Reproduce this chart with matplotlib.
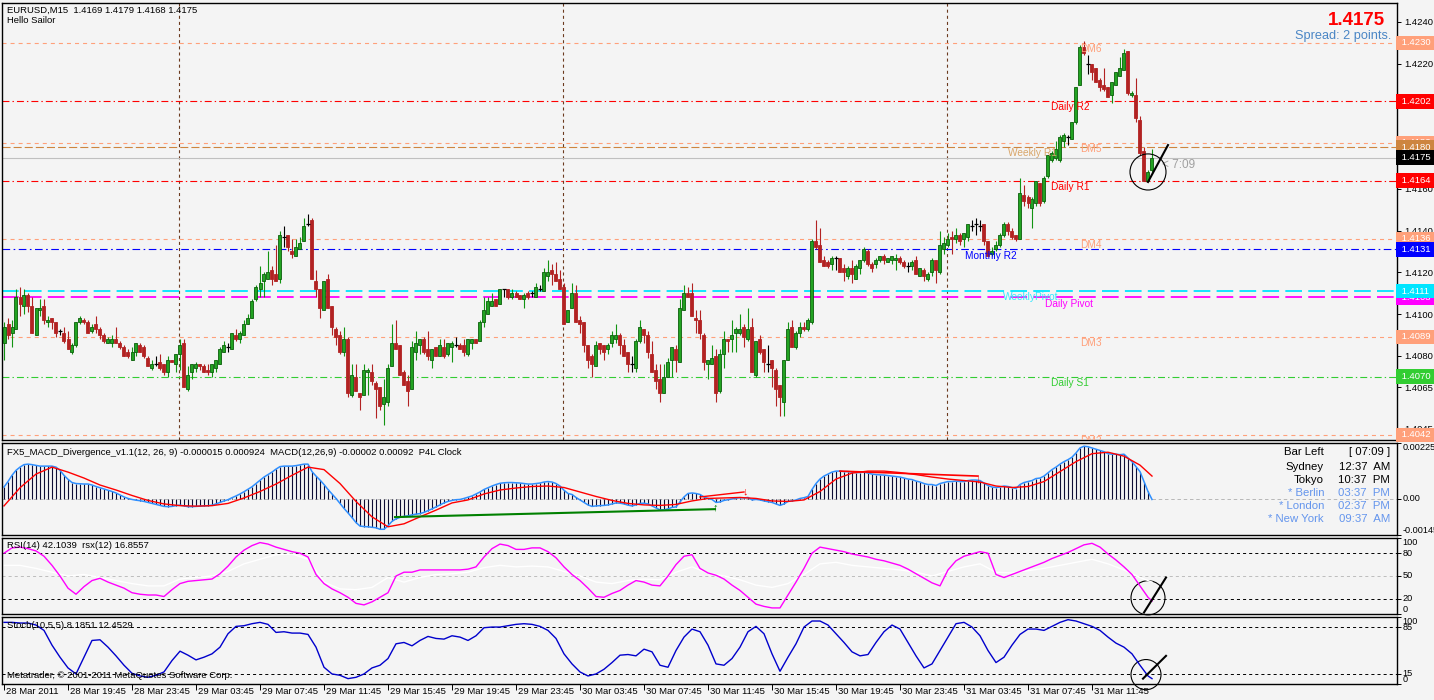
import numpy as np
import matplotlib.pyplot as plt
from matplotlib.patches import Ellipse
from matplotlib.transforms import blended_transform_factory as blend

plt.rcParams['font.family'] = ['Liberation Sans', 'DejaVu Sans']
plt.rcParams['lines.scale_dashes'] = False

W, H = 1434, 700
BG = '#f4f4f4'

# EURUSD M15 candles, pips above 1.4000, first bar 28 Mar 15:45
opens = [86,95,91,93,108,104,109,104,90,102, 104,96,98,96,92,91,88,82,85,96,
         97,96,92,95,93,90,86,86,88,86, 84,82,78,82,85,84,79,74,76,77,
         76,72,78,76,81,86,64,72,74,76, 75,73,72,74,76,82,84,83,90,88,
         90,95,98,107,112,116,117,121,119,117, 137,138,130,128,131,135,143,145,116,112,
         102,117,104,93,90,82,88,61,70,62, 61,72,72,67,65,57,58,75,86,85,
         72,68,64,82,85,88,83,78,84,80, 84,81,84,85,85,85,81,86,88,87,
         96,100,104,107,105,112,112,108,110,109, 107,110,110,108,112,111,118,121,119,117,
         113,96,103,110,97,96,85,80,75,86, 85,83,86,88,90,85,82,76,74,87,
         93,90,81,73,69,62,70,78,83,77, 102,110,110,98,97,90,76,76,80,63,
         81,88,88,91,91,94,88,94,71,88, 83,76,78,73,66,58,78,94,84,91,
         94,93,96,135,133,126,125,124,127,127, 122,118,122,117,122,126,130,124,124,126,
         128,125,126,126,127,125,123,123,126,118, 121,117,120,126,120,131,133,137,136,138,
         136,137,142,143,142,143,135,129,131,133, 138,143,140,138,136,157,156,151,153,163,
         154,166,174,175,174,183,185,184,192,210, 228,220,220,218,212,210,209,205,210,214,
         217,226,205,205,193,178,164,169]
highs = [96,98,97,112,113,112,110,108,103,107, 107,99,98,96,93,94,92,86,96,99,
         98,97,95,99,94,91,89,90,94,87, 85,83,84,86,86,85,80,78,80,81,
         76,80,78,81,88,88,75,76,77,76, 76,76,76,78,84,87,86,91,93,92,
         97,100,107,114,123,120,130,123,133,140, 142,138,136,136,137,146,148,146,121,112,
         116,119,104,94,92,94,89,76,76,62, 76,74,76,68,65,69,76,95,97,85,
         73,71,87,92,88,89,92,83,84,88, 88,86,87,89,86,88,88,88,88,97,
         108,108,110,107,112,112,112,112,111,109, 110,111,111,115,114,122,126,124,125,121,
         115,102,115,114,99,96,85,81,87,86, 85,86,92,95,91,88,82,80,88,97,
         93,92,87,76,76,76,79,84,85,107, 114,113,115,102,102,91,78,85,83,83,
         92,88,97,94,100,95,103,98,87,90, 83,85,78,74,66,78,96,97,92,96,
         96,98,136,145,141,128,126,128,128,127, 124,123,126,124,126,132,131,125,127,128,
         129,127,128,129,128,126,125,126,128,122, 122,120,127,126,140,137,139,140,141,139,
         139,143,145,146,145,143,135,132,135,139, 144,144,141,138,165,162,157,156,164,163,
         166,176,178,183,186,187,186,192,209,229, 231,224,220,218,213,218,209,211,216,223,
         227,226,207,213,195,180,169,179]
lows = [78,88,84,93,99,100,101,91,90,99, 95,94,93,89,90,86,83,81,84,95,
        95,91,91,91,88,86,86,84,86,83, 80,79,78,80,82,79,75,73,75,73,
        71,70,77,72,73,65,63,69,72,73, 72,71,70,72,76,82,82,83,87,86,
        90,95,98,106,108,108,117,114,116,115, 132,130,127,128,131,135,142,117,108,98,
        102,103,90,85,81,80,60,60,63,54, 61,61,66,50,54,47,56,75,83,71,
        66,56,64,78,81,81,78,74,80,80, 79,80,77,84,83,80,80,83,86,87,
        94,100,104,104,105,108,107,107,108,107, 103,107,108,108,111,111,116,114,116,112,
        95,96,103,96,91,82,74,70,75,81, 78,81,84,86,81,80,72,72,72,86,
        86,79,72,64,58,62,70,70,72,77, 102,108,99,91,88,73,69,76,58,62,
        74,82,82,82,90,84,87,72,70,81, 72,72,65,56,51,51,78,84,83,89,
        92,92,95,131,125,123,122,121,121,120, 116,117,115,117,119,125,123,120,122,125,
        124,125,124,121,124,122,120,121,119,118, 116,116,118,115,119,129,132,129,134,133,
        132,135,140,138,140,133,128,128,130,132, 137,138,136,135,136,152,151,141,152,152,
        153,165,173,174,173,180,181,184,191,210, 224,215,212,211,207,207,204,201,210,214,
        217,205,204,192,176,164,164,168]
closes = [94,90,94,108,105,109,104,91,103,103, 97,97,96,91,92,87,83,85,96,98,
          96,91,94,93,90,87,88,88,86,84, 80,80,82,86,82,80,75,76,76,74,
          72,78,77,81,85,65,71,76,76,75, 72,72,76,78,83,85,84,91,88,91,
          95,98,106,113,115,119,120,117,116,138, 137,132,129,132,134,142,143,117,112,103,
          116,103,94,89,82,88,62,71,63,60, 73,73,68,64,56,60,74,86,83,71,
          66,63,84,86,88,82,80,83,80,85, 80,86,86,85,83,82,88,88,86,96,
          102,106,106,104,112,112,108,110,108,107, 109,108,110,113,112,120,120,119,116,112,
          95,102,110,96,95,85,78,76,85,83, 82,85,90,90,85,80,76,76,87,94,
          90,82,72,68,62,70,77,84,78,103, 110,108,99,97,91,77,78,79,62,81,
          88,87,90,93,93,89,93,72,87,82, 77,76,74,64,60,78,93,84,91,94,
          93,97,135,132,125,123,123,127,127,120, 120,122,119,123,126,131,124,122,126,128,
          126,127,128,127,125,123,123,125,119,122, 118,119,126,121,133,134,136,136,138,135,
          139,143,142,143,142,135,128,130,133,138, 143,140,137,136,158,154,153,155,164,153,
          165,176,177,179,185,186,185,192,209,228, 225,220,216,211,209,208,204,211,216,218,
          225,206,206,194,177,164,168,175]

# MACD main (1e-5), one value per bar
macd = [48,70,95,115,128,138,140,138,135,132, 132,132,132,128,115,95,79,66,62,61,
        60,60,56,50,45,40,35,30,24,16, 8,2,-2,-5,-7,-10,-14,-18,-22,-26,
        -30,-31,-30,-27,-25,-28,-31,-31,-30,-29, -28,-27,-25,-20,-14,-8,-3,5,12,20,
        29,39,49,62,75,88,98,108,120,130, 132,132,132,134,137,140,140,110,92,76,
        58,38,20,2,-18,-38,-56,-75,-95,-109, -111,-112,-114,-116,-122,-122,-108,-90,-80,-74,
        -70,-68,-64,-61,-59,-54,-47,-40,-32,-24, -16,-10,-6,-3,-2,2,7,12,20,28,
        38,45,52,58,63, 65,66,66,65,64,62,60,60,62,64,
        68,70,68,62,52,35,22,18,6,-4, -14,-24,-30,-28,-27,-26,-24,-20,-16,-17,
        -20,-25,-28,-24,-18,-17,-20,-28,-36,-44, -44,-40,-34,-32,-12,8,22,24,22,18,
        8,2,-2,-14,-12,-6,-3,0,3,5, 4,6,-4,-2,-4,-8,-11,-14,-20,-26,
        -20,-10,-8,-4,2,5,10,38,62,80, 92,100,108,112,112,110,110,108,106,106,
        108,104,100,98,97,96,94,92,90,88, 84,80,78,72,68,62,58,58,54,62,
        66,70,70,72,70,70,74,76,76,74, 64,54,48,46,48,52,50,46,42,58,
        66,70,74,82,84,92,105,118,128,140, 150,158,168,185,205,212,210,205,200,195,
        190,182,180,180,178,180,165,150,130,110, 70,30,-2]
# MACD signal (1e-5), every 4th bar + last bar
signal = [-28,45,100,128,108,84,56,36,14,-6, -20,-27,-29,-27,-18,4,30,60,95,128,
          118,62,-10,-72,-112,-100,-72,-45,-16,-4, 20,36,44,50,52,46,28,10,-6,-18,
          -24,-26,-22,-8,2,4,6,2,-8,-10, -4,30,80,104,112,112,106,98,88,80,
          74,68,52,46,50,70,110,150,182,188, 172,136, 92]
# RSI(14), every 4th bar + last bar
rsi = [64,64,60,55,50,52,48,44,40,37, 37,46,48,50,56,66,72,78,79,72,
       42,33,32,35,48,42,48,52,53,55, 61,64,62,63,62,56,50,42,40,44,
       46,45,55,62,54,50,45,38,35,40, 52,66,68,64,62,60,58,55,50,56,
       62,66,55,54,57,60,64,68,72,66, 58,48, 42]
# rsx(12), every 2nd bar + last bar
rsx = [80,87,88,86,83,76,64,50,34,26, 36,44,47,42,38,34,28,26,25,25,
       23,32,40,43,44,45,46,53,63,75, 84,90,94,92,88,85,82,80,75,52,
       40,33,28,22,14,12,16,22,28,50, 55,55,58,58,58,58,58,58,59,62,
       75,86,92,90,85,85,87,87,82,74, 62,52,44,34,23,22,27,31,38,44,
       42,38,37,50,65,76,78,60,54,51, 46,38,31,22,13,10,8,8,25,42,
       60,80,88,86,84,82,79,77,75,72, 70,67,64,59,53,47,41,37,58,70,
       76,79,82,80,52,48,52,56,60,64, 68,73,77,81,86,91,93,88,79,71,
       62,52,37,22, 17]
# Stoch(10,5,5) main, every 2nd bar + last bar
stoch = [92,92,91,91,88,80,58,40,24,15, 40,65,66,55,42,28,16,12,10,13,
         18,35,49,43,36,40,45,55,75,86, 87,90,92,89,77,78,76,76,74,55,
         25,15,13,8,10,15,24,28,38,60, 62,57,65,71,68,67,72,70,65,72,
         84,85,85,87,89,90,89,86,80,68, 45,30,18,12,15,22,32,43,44,42,
         52,48,28,25,50,70,82,78,58,30, 28,38,55,78,86,75,45,19,40,60,
         85,94,94,88,75,62,48,42,44,62, 78,88,82,62,42,24,30,50,70,90,
         92,85,72,50,32,40,58,74,82,82, 80,86,92,96,94,90,86,80,70,61,
         55,45,28,12, 8]

level_names = ["DM6", "Daily R2", "DM5", "Weekly R1", "Daily R1", "DM4", "Monthly R2",
               "WeeklyPivot", "Daily Pivot", "DM3", "Daily S1", "DM2"]
level_prices = [1.4230, 1.4202, 1.4182, 1.4180, 1.4164, 1.4136, 1.4131,
                1.4111, 1.4108, 1.4089, 1.4070, 1.4042]
level_colors = ['#ffa07a', '#ff0000', '#ffa07a', '#cd853f', '#ff0000', '#ffa07a', '#0000ff',
                '#00e5ff', '#ff00ff', '#ffa07a', '#32cd32', '#ffa07a']
last_price = 1.4175
price_ticks = [1.4240, 1.4220, 1.4200, 1.4180, 1.4160, 1.4140, 1.4120, 1.4100, 1.4080, 1.4065, 1.4045]

x_labels = ["28 Mar 2011", "28 Mar 19:45", "28 Mar 23:45", "29 Mar 03:45", "29 Mar 07:45",
            "29 Mar 11:45", "29 Mar 15:45", "29 Mar 19:45", "29 Mar 23:45", "30 Mar 03:45",
            "30 Mar 07:45", "30 Mar 11:45", "30 Mar 15:45", "30 Mar 19:45", "30 Mar 23:45",
            "31 Mar 03:45", "31 Mar 07:45", "31 Mar 11:45"]
clock_names = ["Bar Left", "Sydney", "Tokyo", "* Berlin", "* London", "* New York"]
clock_times = ["[ 07:09 ]", "12:37  AM", "10:37  PM", "03:37  PM", "02:37  PM", "09:37  AM"]


def box(l, t, r, b):
    return [l / W, 1 - b / H, (r - l) / W, (b - t) / H]


fig = plt.figure(figsize=(W / 100, H / 100), dpi=100, facecolor=BG)
ax = fig.add_axes(box(2, 3, 1397, 440))
axm = fig.add_axes(box(2, 443, 1397, 535))
axr = fig.add_axes(box(2, 538, 1397, 614))
axs = fig.add_axes(box(2, 617, 1397, 684))

for a in (ax, axm, axr, axs):
    a.set_facecolor(BG)
    a.set_xlim(-0.5, 348.25)
    a.yaxis.tick_right()
    a.tick_params(axis='both', length=3, width=0.7, labelsize=6.8, pad=2, colors='black')
    a.set_xticks([])
    for s in a.spines.values():
        s.set_linewidth(1.0)

# ---- price window
o = 1.4 + np.array(opens) / 1e4
h = 1.4 + np.array(highs) / 1e4
l = 1.4 + np.array(lows) / 1e4
c = 1.4 + np.array(closes) / 1e4
idx = np.arange(len(c))
up, dn, dj = c > o, c < o, np.isclose(c, o)
up &= ~dj
dn &= ~dj

ax.set_ylim(1.40396, 1.42491)
ax.set_yticks(price_ticks)
ax.set_yticklabels(['%.4f' % p for p in price_ticks])

for b in [43.75, 139.75, 235.75]:
    ax.axvline(b, color='#6b3a1e', lw=0.8, dashes=(2.2, 2.2), zorder=1)

styles = {'#ffa07a': (2.9, 2.9), '#ff0000': (5, 2.2, 1, 2.2), '#0000ff': (5.5, 2.5, 1.2, 2.5),
          '#cd853f': (5.8, 2.2), '#00e5ff': (12, 4.5), '#ff00ff': (12, 4.5), '#32cd32': (5, 2.2, 1, 2.2)}
for p, col in zip(level_prices, level_colors):
    lw = 1.3 if col in ('#00e5ff', '#ff00ff') else 0.8
    ax.axhline(p, color=col, lw=lw, dashes=styles[col], zorder=1)
ax.axhline(last_price, color='#c0c0c0', lw=0.8, zorder=1)

label_bars = [269, 261.75, 269, 251, 261.75, 269, 240.25, 249.75, 260.25, 269, 261.75, 269]
label_cols = {'#ffa07a': '#ffa07a', '#cd853f': '#d9a66a', '#00e5ff': '#33e8ff'}
for name, p, col, b in zip(level_names, level_prices, level_colors, label_bars):
    ax.text(b, p - 0.00006, name, color=label_cols.get(col, col), fontsize=7.3,
            va='top', ha='left', zorder=4, clip_on=True)

ax.vlines(idx[up], l[up], h[up], color='#129412', lw=0.8, zorder=2)
ax.vlines(idx[dn], l[dn], h[dn], color='#b22222', lw=0.8, zorder=2)
ax.vlines(idx[dj], l[dj], h[dj], color='black', lw=0.8, zorder=2)
ax.bar(idx[up], (c - o)[up], bottom=o[up], width=0.75, color='#22a322',
       edgecolor='#0b5f0b', lw=0.6, zorder=3)
ax.bar(idx[dn], (o - c)[dn], bottom=c[dn], width=0.75, color='#b22222',
       edgecolor='#b22222', lw=0.6, zorder=3)
ax.hlines(o[dj], idx[dj] - 0.45, idx[dj] + 0.45, color='black', lw=0.9, zorder=3)

# price tags on the axis
tr = blend(ax.transAxes, ax.transData)
tag_order = [0, 1, 2, 3, 4, 5, 6, 8, 7, 9, 10, 11]
for k in tag_order:
    p, col = level_prices[k], level_colors[k]
    ax.text(1.0012, p, ' %.4f ' % p, transform=tr, fontsize=6.8, color='white', va='center',
            ha='left', clip_on=False, zorder=10,
            bbox=dict(boxstyle='square,pad=0.3', fc=col, ec='none'))
ax.text(1.0012, last_price, ' %.4f ' % last_price, transform=tr, fontsize=6.8, color='white',
        va='center', ha='left', clip_on=False, zorder=11,
        bbox=dict(boxstyle='square,pad=0.3', fc='black', ec='none'))

ax.text(0.0036, 0.984, "EURUSD,M15  1.4169 1.4179 1.4168 1.4175", transform=ax.transAxes,
        fontsize=6.8, va='center', ha='left')
ax.text(0.0036, 0.961, "Hello Sailor", transform=ax.transAxes, fontsize=6.8, va='center', ha='left')
ax.text(0.9914, 0.961, "1.4175", transform=ax.transAxes, fontsize=13.5, fontweight='bold',
        color='#ff0000', va='center', ha='right')
ax.text(0.9957, 0.9245, "Spread: 2 points.", transform=ax.transAxes, fontsize=9.2,
        color='#4a86c5', va='center', ha='right')
ax.text(289.5, 1.41714, "< 7:09", fontsize=8.5, color='#a0a0a0', va='center', ha='left')

ax.add_patch(Ellipse((286, 1.41681), 9, 0.00173, fill=False, ec='black', lw=0.8, zorder=6))
ax.plot([286, 291], [1.41633, 1.41810], color='black', lw=1.5, zorder=6)

# ---- MACD window
mv = np.array(macd) / 1e5
sv = np.array(signal) / 1e5
sig_idx = np.append(np.arange(len(sv) - 1) * 4, len(mv) - 1)
axm.set_ylim(-0.00145, 0.00225)
axm.set_yticks([0.00225, 0.0, -0.00145])
axm.set_yticklabels([])
axm.axhline(0, color='#b8b8b8', lw=0.7, dashes=(2.5, 2))
axm.vlines(np.arange(len(mv)), 0, mv, color='#0d0d35', lw=0.8)
axm.plot(np.arange(len(mv)), mv, color='#2f8fff', lw=1.1)
axm.plot(sig_idx, sv, color='#ff0000', lw=1.0)
axm.plot([97.75, 177.75], [-0.00073, -0.00041], color='#008000', lw=1.5)
axm.plot([174, 185], [0.00008, 0.00028], color='#ff0000', lw=1.0)
axm.plot([209, 243.5], [0.00112, 0.00092], color='#ff0000', lw=1.2)
axm.text(185.25, 0.00032, "↓", color='#ff0000', fontsize=8, fontweight='bold', ha='center', va='center')
axm.text(243.5, 0.0008, "↓", color='#ff0000', fontsize=8, fontweight='bold', ha='center', va='center')
axm.text(177.75, -0.00033, "↑", color='#008000', fontsize=8, fontweight='bold', ha='center', va='center')
axm.text(0.0036, 0.902, "FX5_MACD_Divergence_v1.1(12, 26, 9) -0.000015 0.000924  "
         "MACD(12,26,9) -0.00002 0.00092  P4L Clock", transform=axm.transAxes,
         fontsize=6.8, va='center', ha='left')
for k, (nm, tm) in enumerate(zip(clock_names, clock_times)):
    col = 'black' if k < 3 else '#6495ed'
    yy = [0.902, 0.739, 0.598, 0.457, 0.315, 0.174][k]
    axm.text(0.9477, yy, nm, transform=axm.transAxes, fontsize=8.2, color=col, ha='right', va='center')
    axm.text(0.995, yy, tm, transform=axm.transAxes, fontsize=8.2, color=col, ha='right', va='center')
trm = blend(axm.transAxes, axm.transData)
axm.text(1.004, 0.00225, "0.002250", transform=trm, fontsize=6.6, va='top', ha='left', clip_on=False)
axm.text(1.004, 0.0, "0.00", transform=trm, fontsize=6.6, va='center', ha='left', clip_on=False)
axm.text(1.004, -0.00145, "-0.00145", transform=trm, fontsize=6.6, va='bottom', ha='left', clip_on=False)

# ---- RSI window
rsi_idx = np.append(np.arange(len(rsi) - 1) * 4, len(c) - 1)
rsx_idx = np.append(np.arange(len(rsx) - 1) * 2, len(c) - 1)
axr.set_ylim(0, 100)
axr.set_yticks([100, 80, 50, 20, 0])
axr.set_yticklabels([])
axr.axhline(80, color='black', lw=0.7, dashes=(2.2, 2.2))
axr.axhline(20, color='black', lw=0.7, dashes=(2.2, 2.2))
axr.axhline(50, color='#bdbdbd', lw=0.7, dashes=(2.2, 2.2))
axr.plot(rsi_idx, rsi, color='white', lw=1.0)
axr.plot(rsx_idx, rsx, color='#ff00ff', lw=1.0)
axr.text(0.0036, 0.895, "RSI(14) 42.1039  rsx(12) 16.8557", transform=axr.transAxes,
         fontsize=6.8, va='center', ha='left')
trr = blend(axr.transAxes, axr.transData)
for v, va in [(100, 'top'), (80, 'center'), (50, 'center'), (20, 'center'), (0, 'bottom')]:
    axr.text(1.004, v, str(v), transform=trr, fontsize=6.6, va=va, ha='left', clip_on=False)
axr.add_patch(Ellipse((286, 21.3), 8.5, 45, fill=False, ec='black', lw=0.8, clip_on=False))
axr.plot([285, 290.5], [2, 48], color='black', lw=1.5)

# ---- Stochastic window
st_idx = np.append(np.arange(len(stoch) - 1) * 2, len(c) - 1)
axs.set_ylim(0, 100)
axs.set_yticks([100, 85, 15, 0])
axs.set_yticklabels([])
axs.axhline(85, color='black', lw=0.7, dashes=(2.2, 2.2))
axs.axhline(15, color='black', lw=0.7, dashes=(2.2, 2.2))
axs.plot(st_idx, stoch, color='#0000cc', lw=1.0)
axs.text(0.0036, 0.866, "Stoch(10,5,5) 8.1851 12.4529", transform=axs.transAxes,
         fontsize=6.8, va='center', ha='left')
axs.text(0.0036, 0.134, "Metatrader, © 2001-2011 MetaQuotes Software Corp.", transform=axs.transAxes,
         fontsize=6.8, va='center', ha='left')
trs = blend(axs.transAxes, axs.transData)
for v, va in [(100, 'top'), (85, 'center'), (15, 'center'), (0, 'bottom')]:
    axs.text(1.004, v, str(v), transform=trs, fontsize=6.6, va=va, ha='left', clip_on=False)
axs.add_patch(Ellipse((285.5, 14), 7.5, 45, fill=False, ec='black', lw=0.8, clip_on=False))
axs.plot([284.75, 290.5], [8, 42], color='black', lw=1.5, clip_on=False)

tick_bars = np.arange(len(x_labels)) * 16
axs.set_xticks(tick_bars)
axs.tick_params(axis='x', length=4, direction='out', labelbottom=False)
for b, lab in zip(tick_bars, x_labels):
    axs.annotate(lab, xy=(b, 0), xycoords=axs.get_xaxis_transform(), xytext=(2, -7),
                 textcoords='offset pixels', fontsize=6.8, va='center', ha='left',
                 annotation_clip=False)

fig.savefig('out.png', dpi=100, facecolor=BG)
